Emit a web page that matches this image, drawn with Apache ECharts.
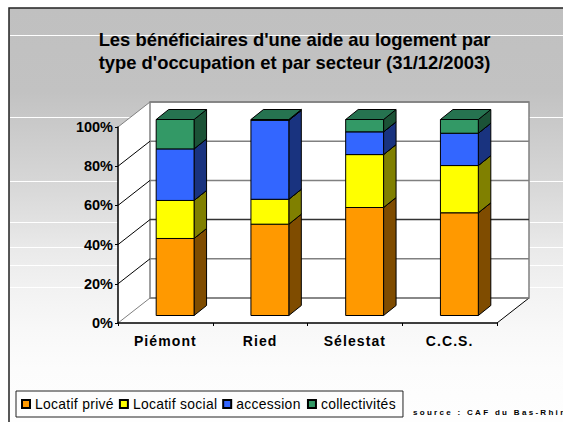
<!DOCTYPE html>
<html>
<head>
<meta charset="utf-8">
<script src="https://cdn.jsdelivr.net/npm/echarts@6/dist/echarts.min.js"></script>
<style>
  html, body { margin: 0; padding: 0; background: #fff; overflow: hidden; }
  #chart { width: 563px; height: 422px; }
  /* echarts text has no letter spacing option, so do it on the svg text */
  #chart text[style*=" 14px"] { letter-spacing: 1.1px; }
  #chart text[style*=" 13.9px"] { letter-spacing: 0.3px; }
  #chart text[style*=" 8px"] { letter-spacing: 2.3px; }
</style>
</head>
<body>
<div id="chart"></div>
<script>
const categories = ['Piémont', 'Ried', 'Sélestat', 'C.C.S.']
const locatifPrive = [39.3, 46.6, 55.1, 52.4]
const locatifSocial = [19.4, 12.7, 27.0, 24.1]
const accession = [26.3, 40.3, 11.6, 16.5]
const collectivites = [15.0, 0.4, 6.3, 7.0]
const gridTicks = [0, 20, 40, 60, 80, 100]
const bandLines = [35, 117, 181, 222, 247, 265, 287]

const font = 'Liberation Sans'
const depthX = 32
const depthY = 25

const chart = echarts.init(document.getElementById('chart'), null, { renderer: 'svg' })

// stack bottoms, added up from the series below
const stackOn = (lower) => categories.map((_, i) => lower.reduce((sum, s) => sum + s[i], 0))

const barSeries = (name, values, base, front, side, top) => ({
  name,
  type: 'custom',
  coordinateSystem: 'cartesian2d',
  z: 5,
  itemStyle: { color: front, borderColor: '#000', borderWidth: 1 },
  data: values.map((v, i) => [i, base[i], base[i] + v]),
  encode: { x: 0, y: [1, 2] },
  renderItem: (params, api) => {
    const low = api.coord([api.value(0), api.value(1)])
    const high = api.coord([api.value(0), api.value(2)])
    const w = api.size([1, 0])[0] * 0.4
    // the bar stands in the middle of the floor depth
    const x0 = low[0] - w / 2 + 9.75
    const x1 = x0 + w
    const y0 = low[1] - 7.5
    const y1 = high[1] - 7.5
    const dx = 12.5
    const dy = 10
    const line = { stroke: '#000', lineWidth: 1 }
    return {
      type: 'group',
      children: [
        { type: 'polygon', shape: { points: [[x1, y0], [x1 + dx, y0 - dy], [x1 + dx, y1 - dy], [x1, y1]] }, style: { fill: side, ...line } },
        { type: 'polygon', shape: { points: [[x0, y1], [x0 + dx, y1 - dy], [x1 + dx, y1 - dy], [x1, y1]] }, style: { fill: top, ...line } },
        { type: 'rect', shape: { x: x0, y: y1, width: w, height: y0 - y1 }, style: { fill: front, ...line } }
      ]
    }
  }
})

// back wall, side wall and floor, with the grid lines on them
const wallSeries = {
  type: 'custom',
  coordinateSystem: 'cartesian2d',
  silent: true,
  z: 1,
  data: gridTicks.map((t) => [t]),
  encode: { y: 0 },
  renderItem: (params, api) => {
    const t = api.value(0)
    // category coords snap to whole categories, so go out half a band from the ends
    const band = api.size([1, 0])[0]
    const xl = api.coord([0, t])[0] - band / 2
    const xr = api.coord([categories.length - 1, t])[0] + band / 2
    const y = api.coord([0, t])[1]
    const children = []
    if (t === 0) {
      const yTop = api.coord([0, 100])[1]
      const xb = xl + depthX
      const xe = xr + depthX
      const yb = y - depthY
      const yt = yTop - depthY
      children.push(
        { type: 'polygon', shape: { points: [[xl, y], [xb, yb], [xb, yt], [xl, yTop]] }, style: { fill: '#fff' } },
        { type: 'polygon', shape: { points: [[xl, y], [xb, yb], [xe, yb], [xr, y]] }, style: { fill: '#fff' } },
        { type: 'rect', shape: { x: xb, y: yt, width: xe - xb, height: yb - yt }, style: { fill: '#fff', stroke: '#808080', lineWidth: 1.5 } },
        { type: 'line', shape: { x1: xr, y1: y, x2: xe, y2: yb }, style: { stroke: '#000', lineWidth: 1 } }
      )
    }
    const edge = t === 0 || t === 100
    children.push(
      { type: 'line', shape: { x1: xl, y1: y, x2: xl + depthX, y2: y - depthY }, style: { stroke: edge ? '#808080' : '#000', lineWidth: 1 } },
      { type: 'line', shape: { x1: xl + depthX, y1: y - depthY, x2: xr + depthX, y2: y - depthY }, style: { stroke: t === 40 ? '#333' : '#808080', lineWidth: 1.5 } }
    )
    return { type: 'group', children }
  }
}

const base1 = stackOn([locatifPrive])
const base2 = stackOn([locatifPrive, locatifSocial])
const base3 = stackOn([locatifPrive, locatifSocial, accession])

chart.setOption({
  animation: false,
  backgroundColor: '#fff',
  graphic: [
    {
      type: 'rect',
      z: -10,
      shape: { x: 9, y: 8, width: 600, height: 440 },
      style: {
        fill: new echarts.graphic.LinearGradient(0, 0, 0, 1, [
          { offset: 0, color: '#c0c0c0' },
          { offset: 0.19, color: '#c2c2c2' },
          { offset: 0.39, color: '#d6d6d6' },
          { offset: 0.49, color: '#e2e2e2' },
          { offset: 0.55, color: '#eaeaea' },
          { offset: 0.64, color: '#f2f2f2' },
          { offset: 0.73, color: '#f8f8f8' },
          { offset: 0.82, color: '#fcfcfc' },
          { offset: 1, color: '#ffffff' }
        ]),
        stroke: '#222',
        lineWidth: 1.5
      }
    },
    ...bandLines.map((y) => ({
      type: 'line',
      z: -9,
      shape: { x1: 10, y1: y + 0.5, x2: 563, y2: y + 0.5 },
      style: { stroke: '#fff', lineWidth: 1 }
    })),
    {
      type: 'text',
      z: 10,
      left: 413,
      top: 408,
      style: { text: 'source : CAF du Bas-Rhin', font: 'bold 8px "Liberation Sans"', fill: '#000' }
    }
  ],
  title: {
    text: "Les bénéficiaires d'une aide au logement par\ntype d'occupation et par secteur (31/12/2003)",
    left: 289.5,
    top: 23,
    textAlign: 'center',
    textStyle: { color: '#000', fontFamily: font, fontSize: 18.4, fontWeight: 'bold', lineHeight: 23 }
  },
  legend: {
    left: 16,
    top: 391,
    padding: [6, 11, 6, 5],
    icon: 'rect',
    itemWidth: 8,
    itemHeight: 8,
    itemGap: 9,
    borderColor: '#222',
    borderWidth: 1,
    textStyle: { color: '#000', fontFamily: font, fontSize: 13.9 },
    data: ['Locatif privé', 'Locatif social', 'accession', 'collectivités']
  },
  grid: { left: 118, right: 66, top: 127, bottom: 99 },
  xAxis: {
    type: 'category',
    data: categories,
    z: 6,
    axisLine: { lineStyle: { color: '#000', width: 1.5 } },
    axisTick: { show: true, length: 3, lineStyle: { color: '#000' } },
    axisLabel: { color: '#000', fontFamily: font, fontSize: 14, fontWeight: 'bold', margin: 11 }
  },
  yAxis: {
    type: 'value',
    min: 0,
    max: 100,
    interval: 20,
    z: 6,
    axisLine: { show: true, lineStyle: { color: '#000', width: 1.5 } },
    axisTick: { show: true, length: 3, lineStyle: { color: '#000' } },
    axisLabel: { color: '#000', fontFamily: font, fontSize: 14.5, fontWeight: 'bold', margin: 5, formatter: '{value}%' },
    splitLine: { show: false }
  },
  series: [
    wallSeries,
    barSeries('Locatif privé', locatifPrive, categories.map(() => 0), '#ff9900', '#7f4c00', '#a86500'),
    barSeries('Locatif social', locatifSocial, base1, '#ffff00', '#808000', '#a8a800'),
    barSeries('accession', accession, base2, '#3366ff', '#19337f', '#2246a8'),
    barSeries('collectivités', collectivites, base3, '#339966', '#1b5236', '#267350')
  ]
})
</script>
</body>
</html>
